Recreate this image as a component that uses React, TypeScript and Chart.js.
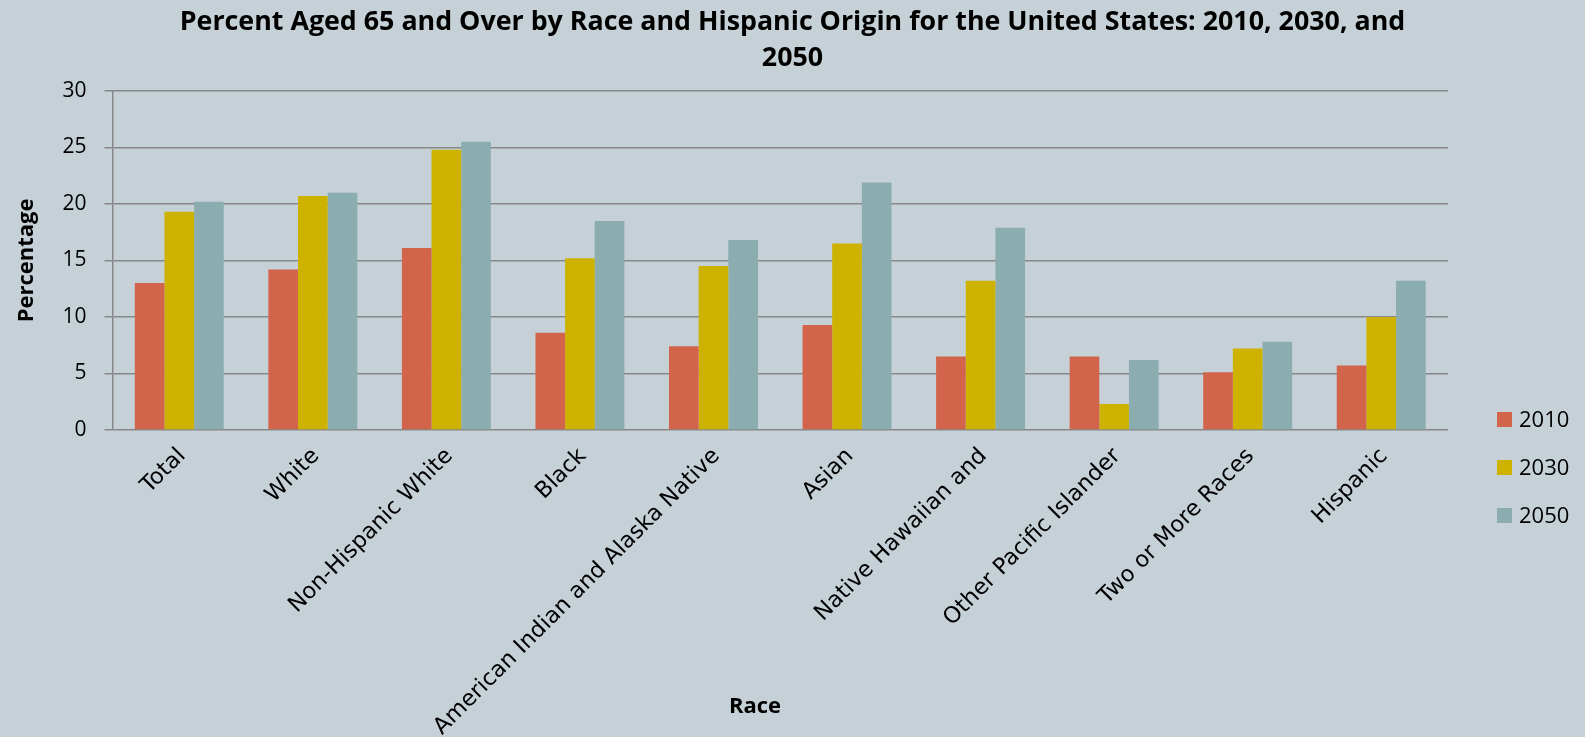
import React, { useEffect, useRef } from "react";
import { Chart, registerables } from "chart.js";

Chart.register(...registerables);

const titleLines = [
  "Percent Aged 65 and Over by Race and Hispanic Origin for the United States: 2010, 2030, and",
  "2050",
];
const xAxisTitle = "Race";
const yAxisTitle = "Percentage";

const categories = [
  "Total",
  "White",
  "Non-Hispanic White",
  "Black",
  "American Indian and Alaska Native",
  "Asian",
  "Native Hawaiian and",
  "Other Pacific Islander",
  "Two or More Races",
  "Hispanic",
];

const seriesLabels = ["2010", "2030", "2050"];
const values2010 = [13.0, 14.2, 16.1, 8.6, 7.4, 9.3, 6.5, 6.5, 5.1, 5.7];
const values2030 = [19.3, 20.7, 24.8, 15.2, 14.5, 16.5, 13.2, 2.3, 7.2, 10.0];
const values2050 = [20.2, 21.0, 25.5, 18.5, 16.8, 21.9, 17.9, 6.2, 7.8, 13.2];
const seriesColors = ["#D2644B", "#CDB300", "#8BADAF"];

const yMin = 0;
const yMax = 30;
const yStep = 5;

const W = 1585;
const H = 737;
const BG = "#C5D1D7";
const GRID = "#878787";

const extras = {
  id: "extras",
  afterDraw(chart: any) {
    const ctx = chart.ctx;
    ctx.save();
    chart.data.datasets.forEach((ds: any, i: number) => {
      const cy = 419.5 + i * 48;
      ctx.fillStyle = ds.backgroundColor;
      ctx.fillRect(1497, cy - 7.5, 15, 15);
      ctx.fillStyle = "#000";
      ctx.font = "22px 'Open Sans'";
      ctx.textBaseline = "middle";
      ctx.textAlign = "left";
      ctx.fillText(ds.label, 1519, cy + 1);
    });
    // x axis title
    ctx.fillStyle = "#000";
    ctx.font = "bold 22px 'Open Sans'";
    ctx.textAlign = "center";
    ctx.textBaseline = "middle";
    ctx.fillText(xAxisTitle, 755, 707);
    ctx.restore();
  },
};

export default function App() {
  const ref = useRef<HTMLCanvasElement | null>(null);

  useEffect(() => {
    if (!ref.current) return;
    const series = [values2010, values2030, values2050];
    const chart = new Chart(ref.current, {
      type: "bar",
      data: {
        labels: categories,
        datasets: series.map((vals, i) => ({
          label: seriesLabels[i],
          data: vals,
          backgroundColor: seriesColors[i],
          borderWidth: 0,
          categoryPercentage: 0.666,
          barPercentage: 1.0,
        })),
      },
      options: {
        animation: false,
        responsive: false,
        devicePixelRatio: 1,
        layout: { padding: 0 },
        plugins: {
          legend: { display: false },
          tooltip: { enabled: false },
          title: {
            display: true,
            text: titleLines,
            color: "#000",
            font: { family: "'Open Sans'", size: 26.8, weight: "bold", lineHeight: 1.36 },
            padding: { top: 4, bottom: 14 },
          },
        },
        scales: {
          x: {
            grid: { display: false, drawTicks: false },
            border: { display: false },
            ticks: {
              color: "#000",
              font: { family: "'DejaVu Sans'", size: 22.5 },
              minRotation: 45,
              maxRotation: 45,
              autoSkip: false,
              padding: 13,
              labelOffset: 3,
            },
            afterFit(scale: any) {
              scale.height = 307;
            },
          },
          y: {
            min: yMin,
            max: yMax,
            ticks: {
              stepSize: yStep,
              color: "#000",
              font: { family: "'Open Sans'", size: 21 },
              padding: 18,
            },
            grid: {
              color: GRID,
              lineWidth: 1.5,
              tickLength: 8,
              drawTicks: true,
            },
            border: { display: true, color: GRID, width: 1.5 },
            title: {
              display: true,
              text: yAxisTitle,
              color: "#000",
              font: { family: "'Open Sans'", size: 22, weight: "bold" },
              padding: { top: 14, bottom: 0 },
            },
            afterFit(scale: any) {
              scale.width = 112.5;
            },
          },
          legendSpace: {
            type: "linear",
            axis: "y",
            position: "right",
            display: true,
            grid: { display: false, drawTicks: false },
            border: { display: false },
            ticks: { display: false },
            afterFit(scale: any) {
              scale.width = 137;
            },
          },
        },
      },
      plugins: [extras],
    });
    return () => chart.destroy();
  }, []);

  return (
    <div
      style={{
        position: "absolute",
        left: 0,
        top: 0,
        width: W,
        height: H,
        background: BG,
        overflow: "hidden",
      }}
    >
      <canvas ref={ref} width={W} height={H} style={{ display: "block", width: W, height: H }} />
    </div>
  );
}
